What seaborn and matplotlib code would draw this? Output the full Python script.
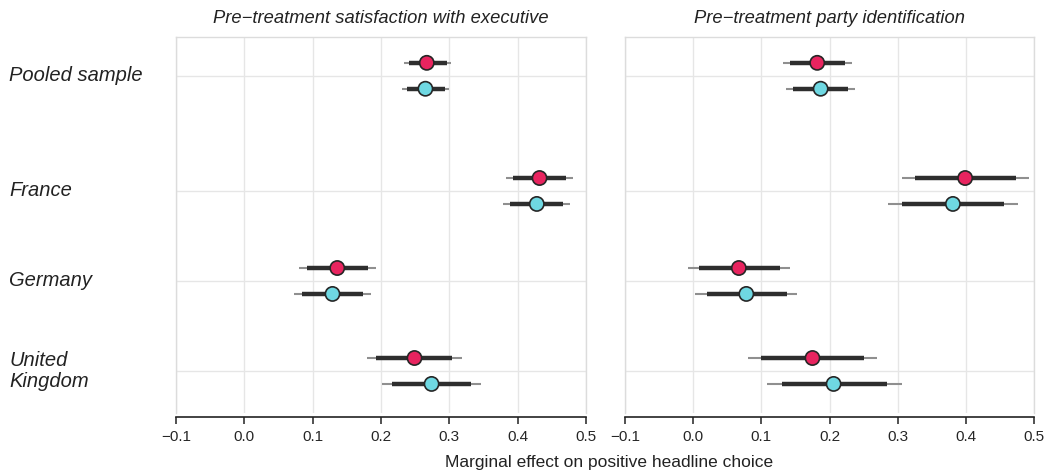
import numpy as np
import pandas as pd
import matplotlib
matplotlib.use("Agg")
import matplotlib.pyplot as plt
import seaborn as sns

# rows: Pooled sample, France, Germany, United Kingdom
countries = ["Pooled sample", "France", "Germany", "United\nKingdom"]
panels = ["Pre\u2212treatment satisfaction with executive",
          "Pre\u2212treatment party identification"]
x_ticks = [-0.1, 0.0, 0.1, 0.2, 0.3, 0.4, 0.5]

# panel 1: satisfaction with executive
sat_red_est = [0.267, 0.432, 0.136, 0.249]
sat_red_lo90 = [0.241, 0.393, 0.092, 0.192]
sat_red_hi90 = [0.296, 0.471, 0.181, 0.304]
sat_red_lo95 = [0.234, 0.383, 0.080, 0.179]
sat_red_hi95 = [0.302, 0.481, 0.192, 0.319]
sat_cyan_est = [0.265, 0.428, 0.129, 0.274]
sat_cyan_lo90 = [0.238, 0.389, 0.085, 0.216]
sat_cyan_hi90 = [0.294, 0.467, 0.173, 0.331]
sat_cyan_lo95 = [0.231, 0.378, 0.073, 0.201]
sat_cyan_hi95 = [0.299, 0.477, 0.185, 0.347]

# panel 2: party identification
pid_red_est = [0.182, 0.399, 0.067, 0.175]
pid_red_lo90 = [0.142, 0.326, 0.008, 0.100]
pid_red_hi90 = [0.223, 0.474, 0.127, 0.251]
pid_red_lo95 = [0.132, 0.307, -0.007, 0.081]
pid_red_hi95 = [0.233, 0.493, 0.142, 0.270]
pid_cyan_est = [0.187, 0.381, 0.078, 0.206]
pid_cyan_lo90 = [0.147, 0.306, 0.020, 0.130]
pid_cyan_hi90 = [0.227, 0.456, 0.137, 0.285]
pid_cyan_lo95 = [0.136, 0.286, 0.003, 0.109]
pid_cyan_hi95 = [0.237, 0.477, 0.152, 0.306]

RED = "#e8245f"
CYAN = "#6fd8e2"

# vertical layout (pooled row set apart a little)
base_y = {"Pooled sample": 4.28, "France": 3, "Germany": 2, "United\nKingdom": 1}
offset = 0.144


def make_frame(panel, series, est, lo90, hi90, lo95, hi95, sign):
    return pd.DataFrame({
        "panel": panel, "series": series, "country": countries,
        "est": est, "lo90": lo90, "hi90": hi90, "lo95": lo95, "hi95": hi95,
        "y": [base_y[c] + sign * offset for c in countries],
    })


df = pd.concat([
    make_frame(panels[0], "red", sat_red_est, sat_red_lo90, sat_red_hi90, sat_red_lo95, sat_red_hi95, 1),
    make_frame(panels[0], "cyan", sat_cyan_est, sat_cyan_lo90, sat_cyan_hi90, sat_cyan_lo95, sat_cyan_hi95, -1),
    make_frame(panels[1], "red", pid_red_est, pid_red_lo90, pid_red_hi90, pid_red_lo95, pid_red_hi95, 1),
    make_frame(panels[1], "cyan", pid_cyan_est, pid_cyan_lo90, pid_cyan_hi90, pid_cyan_lo95, pid_cyan_hi95, -1),
], ignore_index=True)

sns.set_theme(style="white")
plt.rcParams["font.family"] = ["Liberation Sans", "DejaVu Sans"]

fig = plt.figure(figsize=(10.51, 4.74), dpi=100)
W, H = 1051, 474
axes = [fig.add_axes([176 / W, (H - 413) / H, 410 / W, 376 / H]),
        fig.add_axes([625 / W, (H - 413) / H, 409 / W, 376 / H])]

for ax, panel in zip(axes, panels):
    sub = df[df["panel"] == panel]
    # grid
    for xt in x_ticks:
        ax.axvline(xt, color="#e6e6e6", lw=1.0, zorder=0)
    for c in countries:
        ax.axhline(base_y[c], color="#e6e6e6", lw=1.0, zorder=0)
    # intervals
    ax.hlines(sub["y"], sub["lo95"], sub["hi95"], color="#8f8f8f", lw=1.5, zorder=2)
    ax.hlines(sub["y"], sub["lo90"], sub["hi90"], color="#2e2e2e", lw=3.2, zorder=3)
    sns.scatterplot(data=sub, x="est", y="y", hue="series",
                    palette={"red": RED, "cyan": CYAN}, s=105,
                    edgecolor="#262626", linewidth=1.2, legend=False,
                    zorder=4, ax=ax)
    ax.set_xlim(-0.1, 0.5)
    ax.set_ylim(0.533, 4.711)
    ax.set_xticks(x_ticks)
    ax.set_xticklabels([f"{t:.1f}".replace("-", "\u2212") for t in x_ticks],
                       fontsize=11.5, color="#222222")
    ax.set_yticks([])
    ax.set_xlabel("")
    ax.set_ylabel("")
    ax.tick_params(axis="x", bottom=True, length=5, width=1.1, color="#222222", pad=4)
    for side in ["left", "top", "right"]:
        ax.spines[side].set_color("#dcdcdc")
        ax.spines[side].set_linewidth(1.0)
    ax.spines["bottom"].set_position(("outward", 3))
    ax.spines["bottom"].set_color("#222222")
    ax.spines["bottom"].set_linewidth(1.2)
    ax.set_title(panel, fontsize=13.2, style="italic", color="#222222", pad=10)

# row labels on the left
for c in countries:
    axes[0].text(-0.1 - 166 / 681, base_y[c], c, ha="left", va="center",
                 fontsize=14.5, style="italic", color="#222222",
                 transform=axes[0].transData, linespacing=1.1, clip_on=False)

fig.text(609 / W, 1 - 463 / H, "Marginal effect on positive headline choice",
         ha="center", va="center", fontsize=12.5, color="#222222")

fig.savefig("out.png", dpi=100, facecolor="white")
